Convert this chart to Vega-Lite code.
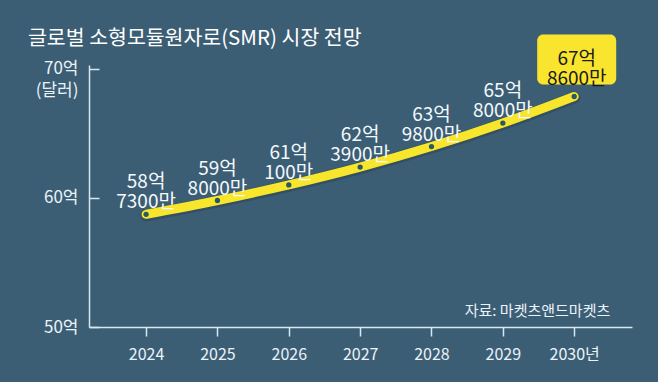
{
  "$schema": "https://vega.github.io/schema/vega-lite/v6.json",
  "width": 543,
  "height": 262,
  "autosize": "none",
  "padding": {"left": 89, "top": 65, "right": 26, "bottom": 55},
  "background": "#3c5e75",
  "config": {"view": {"stroke": null}, "font": "Noto Sans CJK KR"},
  "title": {
    "text": "글로벌 소형모듈원자로(SMR) 시장 전망",
    "anchor": "start",
    "frame": "group",
    "dx": -61,
    "offset": -35,
    "fontSize": 20.5,
    "font": "Noto Sans CJK KR",
    "fontWeight": "normal",
    "color": "#ffffff",
    "baseline": "bottom"
  },
  "data": {
    "values": [
      {"year": 2024, "value": 58.73, "label": "58억\n7300만", "last": false},
      {"year": 2025, "value": 59.80, "label": "59억\n8000만", "last": false},
      {"year": 2026, "value": 61.01, "label": "61억\n100만", "last": false},
      {"year": 2027, "value": 62.39, "label": "62억\n3900만", "last": false},
      {"year": 2028, "value": 63.98, "label": "63억\n9800만", "last": false},
      {"year": 2029, "value": 65.80, "label": "65억\n8000만", "last": false},
      {"year": 2030, "value": 67.86, "label": "67억\n8600만", "last": true}
    ]
  },
  "encoding": {
    "x": {
      "field": "year",
      "type": "quantitative",
      "scale": {"domain": [2023.2, 2030.81], "nice": false, "zero": false},
      "axis": {
        "values": [2024, 2025, 2026, 2027, 2028, 2029, 2030],
        "labelExpr": "datum.value == 2030 ? '2030년' : '' + datum.value",
        "grid": false,
        "domainColor": "#d6e8f0",
        "domainWidth": 1.5,
        "tickColor": "#d6e8f0",
        "tickWidth": 1.5,
        "tickSize": 9,
        "labelPadding": 10,
        "labelFontSize": 16,
        "labelColor": "#eaf3f8",
        "labelFont": "Noto Sans CJK KR",
        "title": "자료: 마켓츠앤드마켓츠",
        "titleX": 448,
        "titleY": -17,
        "titleAlign": "center",
        "titleBaseline": "middle",
        "titleFontSize": 15,
        "titleFontWeight": "normal",
        "titleColor": "#eaf3f8",
        "titleFont": "Noto Sans CJK KR"
      }
    },
    "y": {
      "field": "value",
      "type": "quantitative",
      "scale": {"domain": [50, 70.3], "nice": false, "zero": false},
      "axis": {
        "values": [50, 60, 70],
        "labelExpr": "datum.value + '억'",
        "grid": false,
        "domainColor": "#d6e8f0",
        "domainWidth": 1.5,
        "tickColor": "#d6e8f0",
        "tickWidth": 1.5,
        "tickSize": -10,
        "labelPadding": 21,
        "labelFontSize": 17,
        "labelColor": "#eaf3f8",
        "labelFont": "Noto Sans CJK KR",
        "title": "(달러)",
        "titleAngle": 0,
        "titleX": -11,
        "titleY": 25,
        "titleAlign": "right",
        "titleBaseline": "middle",
        "titleFontSize": 17,
        "titleFontWeight": "normal",
        "titleColor": "#eaf3f8",
        "titleFont": "Noto Sans CJK KR"
      }
    }
  },
  "layer": [
    {"mark": {"type": "line", "interpolate": "monotone", "strokeWidth": 12, "color": "#23394a", "opacity": 0.4, "strokeCap": "round", "yOffset": 1}},
    {"mark": {"type": "line", "interpolate": "monotone", "strokeWidth": 9, "color": "#f7e62b", "strokeCap": "round"}},
    {"mark": {"type": "point", "filled": true, "size": 28, "color": "#2c5866", "opacity": 1}},
    {
      "transform": [{"filter": "!datum.last"}],
      "mark": {"type": "text", "lineBreak": "\n", "baseline": "middle", "align": "center", "dy": -32, "fontSize": 19, "lineHeight": 20, "color": "#f4f9fc", "font": "Noto Sans CJK KR"},
      "encoding": {"text": {"field": "label"}}
    },
    {
      "transform": [{"filter": "datum.last"}],
      "mark": {"type": "rect", "width": 79, "height": 50, "cornerRadius": 6, "yOffset": -37, "xOffset": 2.5, "color": "#f9e52e"}
    },
    {
      "transform": [{"filter": "datum.last"}],
      "mark": {"type": "text", "lineBreak": "\n", "baseline": "middle", "align": "center", "dy": -37, "dx": 2.5, "fontSize": 19, "lineHeight": 20, "color": "#1a1a1a", "font": "Noto Sans CJK KR"},
      "encoding": {"text": {"field": "label"}}
    }
  ]
}
